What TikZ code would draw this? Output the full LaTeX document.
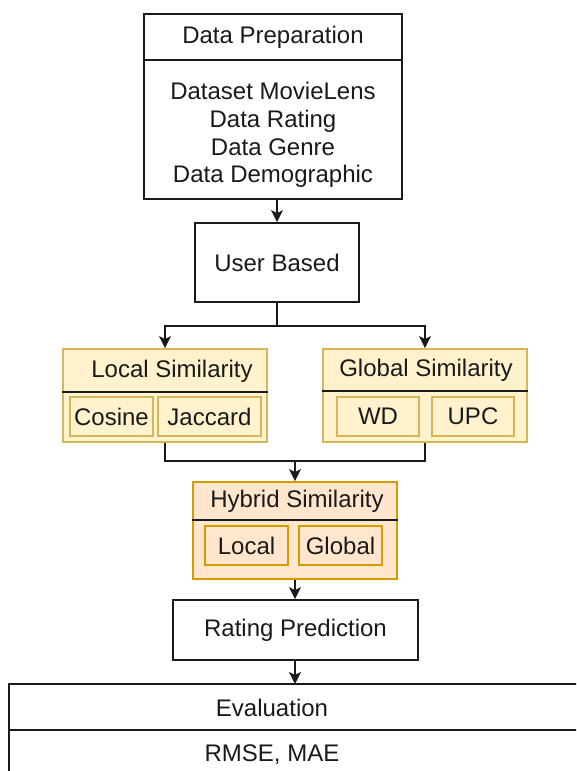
\documentclass[tikz,border=0pt]{standalone}
\usepackage{fontspec}
\setmainfont{Liberation Sans}
\usetikzlibrary{arrows.meta}
\definecolor{yfill}{HTML}{FFF2CC}
\definecolor{ydraw}{HTML}{D6B656}
\definecolor{ofill}{HTML}{FFE6CC}
\definecolor{odraw}{HTML}{D79B00}
\definecolor{ink}{HTML}{1A1A1A}
\tikzset{
  every node/.style={font=\fontsize{24}{27.7}\selectfont, text=ink, inner sep=0pt, align=center},
  plainbox/.style={draw=ink, line width=1.8pt, fill=white},
  ybox/.style={draw=ydraw, line width=1.8pt, fill=yfill},
  obox/.style={draw=odraw, line width=1.8pt, fill=ofill},
  wire/.style={draw=ink, line width=1.8pt},
  arr/.style={wire, -{Stealth[length=12pt, width=12pt, inset=3pt]}},
  sep/.style={draw=ink, line width=1.8pt},
}
\begin{document}
\begin{tikzpicture}[x=1pt, y=-1pt]
\useasboundingbox (0,0) rectangle (576,771);
\clip (0,0) rectangle (576,771);

% Data preparation
\node[plainbox, minimum width=258pt, minimum height=46pt] (dpT) at (273,37) {Data Preparation};
\node[plainbox, minimum width=258pt, minimum height=139pt] (dpB) at (273,129.5) {};
\node (dpText) at (273,135) {Dataset MovieLens\\Data Rating\\Data Genre\\Data Demographic};

% User based
\node[plainbox, minimum width=164pt, minimum height=79pt] (ub) at (277,262.5) {User Based};

% Local similarity
\node[ybox, minimum width=204pt, minimum height=93pt] (loc) at (165,395.5) {};
\draw[sep] (loc.west |- 0,392) -- (loc.east |- 0,392);
\node (locT) at (172,371) {Local Similarity};
\node[ybox, minimum width=83pt, minimum height=39pt] (cos) at (111.5,416.5) {Cosine};
\node[ybox, minimum width=103pt, minimum height=39pt] (jac) at (209.5,416.5) {Jaccard};

% Global similarity
\node[ybox, minimum width=204pt, minimum height=93pt] (glo) at (425,395.5) {};
\draw[sep] (glo.west |- 0,391) -- (glo.east |- 0,391);
\node (gloT) at (426,370.5) {Global Similarity};
\node[ybox, minimum width=82pt, minimum height=39pt] (wd) at (378,416.5) {WD};
\node[ybox, minimum width=82pt, minimum height=39pt] (upc) at (473,416.5) {UPC};

% Hybrid similarity
\node[obox, minimum width=204pt, minimum height=97pt] (hyb) at (295,530.5) {};
\draw[sep] (hyb.west |- 0,520) -- (hyb.east |- 0,520);
\node (hybT) at (297,501.5) {Hybrid Similarity};
\node[obox, minimum width=83pt, minimum height=39pt] (hl) at (246.5,545.5) {Local};
\node[obox, minimum width=83pt, minimum height=39pt] (hg) at (340.5,545.5) {Global};

% Rating prediction
\node[plainbox, minimum width=245pt, minimum height=60pt] (rate) at (295.5,630) {Rating Prediction};

% Evaluation (runs past the page edge)
\draw[plainbox] (9,684) rectangle (620,800);
\draw[sep] (9,730) -- (620,730);
\node (evT) at (272,708) {Evaluation};
\node (evB) at (272,755) {RMSE, MAE};
\coordinate (evIn) at (295,684);

% Connectors
\draw[arr] (ub.north |- dpB.south) -- (ub.north);
\draw[arr] (ub.south) -- ++(0,23) -| (loc.north);
\draw[arr] (ub.south) -- ++(0,23) -| (glo.north);
\coordinate (merge) at (295,461);
\draw[wire] (loc.south) |- (merge);
\draw[wire] (glo.south) |- (merge);
\draw[arr] (merge) -- (hyb.north);
\draw[arr] (hyb.south) -- (hyb.south |- rate.north);
\draw[arr] (hyb.south |- rate.south) -- (evIn);
\end{tikzpicture}
\end{document}
